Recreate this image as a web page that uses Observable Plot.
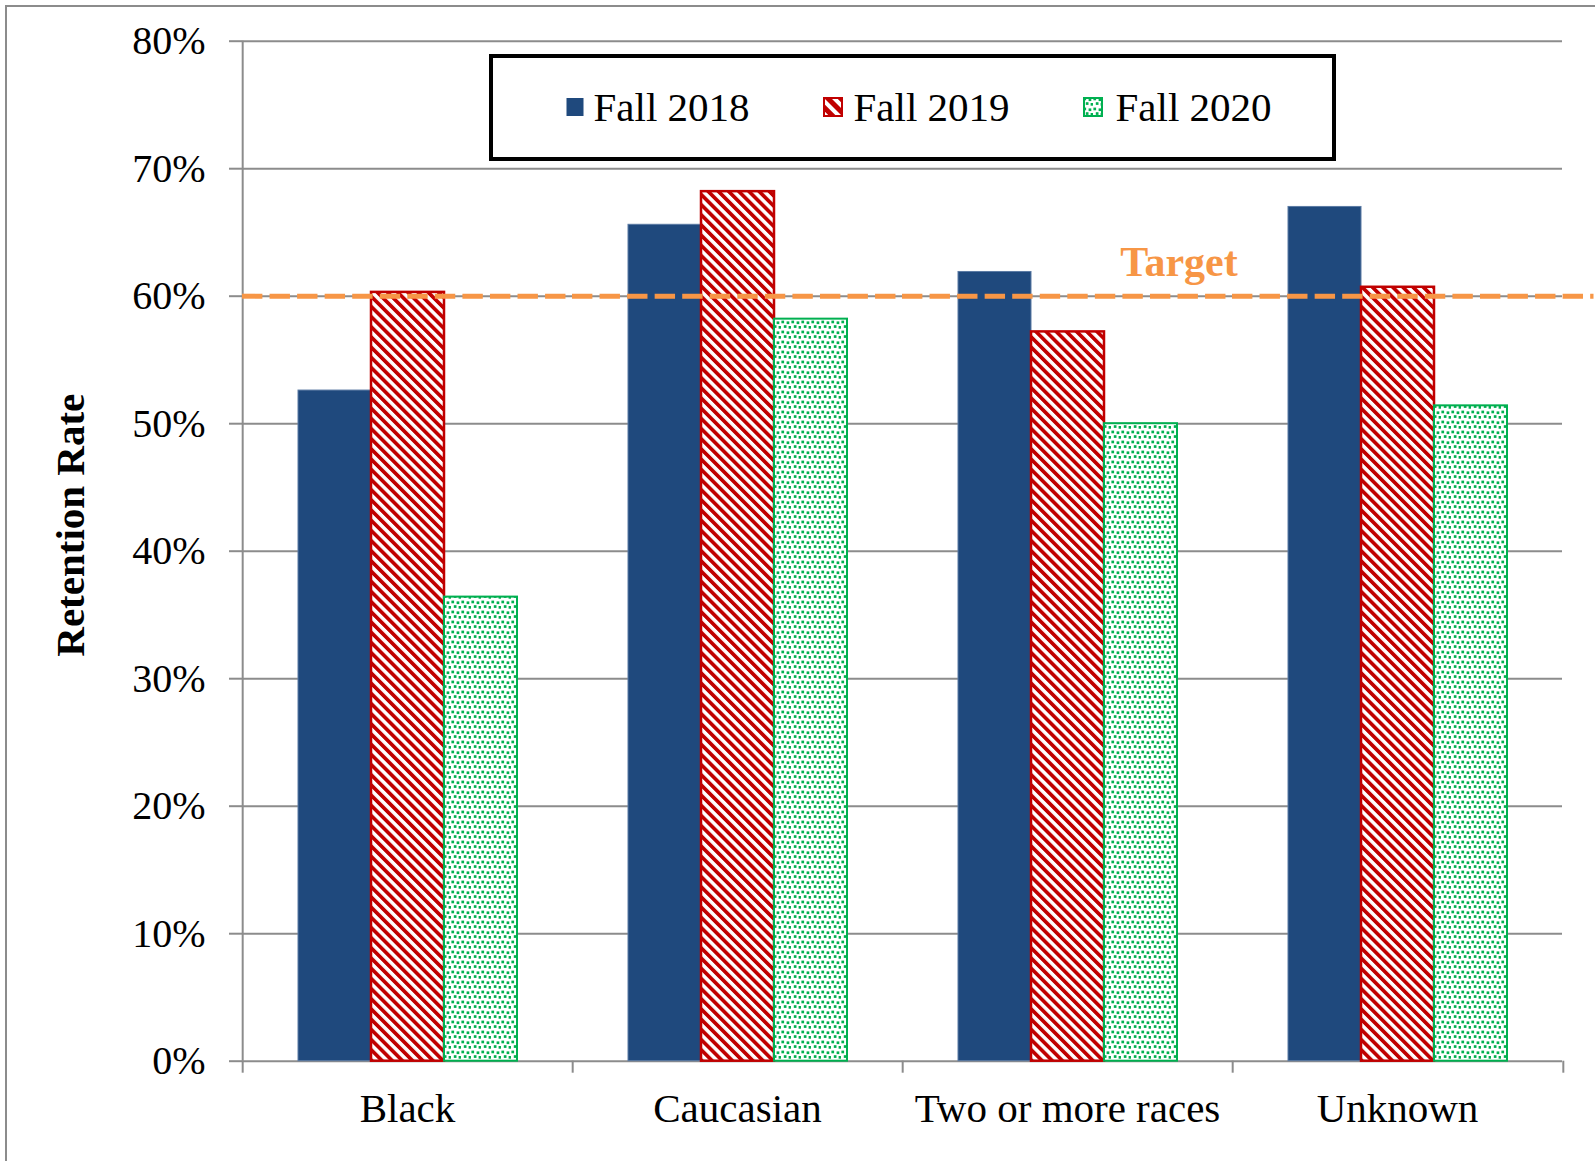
<!DOCTYPE html>
<html><head><meta charset="utf-8">
<script src="https://cdn.jsdelivr.net/npm/d3@7"></script>
<script src="https://cdn.jsdelivr.net/npm/@observablehq/plot@0.6"></script>
<style>
body{margin:0;background:#fff;}
#wrap{position:relative;width:1595px;height:1161px;overflow:hidden;font-family:'Liberation Serif','Times New Roman',serif;background:#fff;}
#frame{position:absolute;left:5px;top:5px;width:1620px;height:1220px;border-left:2px solid #8c8c8c;border-top:2px solid #8c8c8c;}
#chart{position:absolute;left:0;top:0;}
#legend{position:absolute;left:489px;top:54px;width:847px;height:107px;box-sizing:border-box;border:4.5px solid #000;background:#fff;}
.item{position:absolute;font-size:41px;line-height:41px;color:#000;white-space:nowrap;}
.sw{position:absolute;display:block;}
</style></head>
<body><div id="wrap"><div id="frame"></div><div id="chart"></div><div id="legend"></div></div>
<script>
// ---- data ----
const categories = ["Black", "Caucasian", "Two or more races", "Unknown"];
const series = ["Fall 2018", "Fall 2019", "Fall 2020"];
const fall2018 = [52.6, 65.6, 61.9, 67.0];
const fall2019 = [60.3, 68.2, 57.2, 60.7];
const fall2020 = [36.4, 58.2, 50.0, 51.4];
const target = 60;
const targetLabel = "Target";
const yTicks = [0, 10, 20, 30, 40, 50, 60, 70, 80];
const yTitle = "Retention Rate";

// ---- build table ----
const values = {"Fall 2018": fall2018, "Fall 2019": fall2019, "Fall 2020": fall2020};
const rows = [];
categories.forEach((c, i) => series.forEach(s => rows.push({cat: c, series: s, value: values[s][i]})));
const lastCat = categories[categories.length - 1];

// ---- layout / style ----
const W = 1595, H = 1161, ML = 241, MR = 31.5, MT = 40.7, MB = 100.3;
const facetW = (W - ML - MR) / categories.length;
const dashP = facetW / 12;
const grey = "#8c8c8c";
const navy = "#1F497D", red = "#C00000", green = "#00B050", orange = "#F79646";
const styles = {
  "Fall 2018": {fill: navy, stroke: "#5b7aa3", strokeWidth: 1},
  "Fall 2019": {fill: "url(#hatch)", stroke: red, strokeWidth: 2.5},
  "Fall 2020": {fill: "url(#dots)", stroke: green, strokeWidth: 2}
};
const font = "'Liberation Serif','Times New Roman',serif";
const targetStyle = {stroke: orange, strokeWidth: 5, strokeDasharray: `${dashP * 0.74},${dashP * 0.26}`};

const chart = Plot.plot({
  width: W, height: H,
  marginLeft: ML, marginRight: MR, marginTop: MT, marginBottom: MB,
  style: {fontFamily: font, background: "transparent", color: "#000", overflow: "visible"},
  fx: {domain: categories, padding: 0, axis: null},
  x: {domain: series, paddingInner: 0, paddingOuter: 0.75, axis: null},
  y: {domain: [0, 80], axis: null},
  marks: [
    Plot.ruleY(yTicks, {stroke: grey, strokeWidth: 2}),
    Plot.axisY(yTicks, {tickSize: 13, tickPadding: 24, tickFormat: d => d + "%", fontSize: 40, stroke: grey, strokeWidth: 2, fill: "#000", label: null}),
    ...series.map(s => Plot.barY(rows.filter(d => d.series === s), {fx: "cat", x: "series", y: "value", ...styles[s]})),
    // category boundary ticks & y axis line
    Plot.ruleX(categories.map(c => ({cat: c})), {fx: "cat", x: () => "Fall 2019", dx: -facetW / 2, y1: 0, y2: 0, insetBottom: -12, stroke: grey, strokeWidth: 2}),
    Plot.ruleX([{cat: lastCat}], {fx: "cat", x: () => "Fall 2019", dx: facetW / 2, y1: 0, y2: 0, insetBottom: -12, stroke: grey, strokeWidth: 2}),
    Plot.ruleX([{cat: categories[0]}], {fx: "cat", x: () => "Fall 2019", dx: -facetW / 2, y1: 0, y2: yTicks[yTicks.length - 1], stroke: grey, strokeWidth: 2}),
    // target
    Plot.ruleY(categories.slice(0, -1).map(c => ({cat: c, v: target})), {fx: "cat", y: "v", ...targetStyle}),
    Plot.ruleY([{cat: lastCat, v: target}], {fx: "cat", y: "v", insetRight: -MR, ...targetStyle}),
    Plot.text([{cat: "Two or more races"}], {fx: "cat", x: () => "Fall 2020", y: () => target, text: () => targetLabel, textAnchor: "middle", lineAnchor: "bottom", dx: 38, dy: -20, fontSize: 42, fontWeight: "bold", fill: orange}),
    // y title
    Plot.text([yTitle], {facet: "super", frameAnchor: "left", rotate: -90, dx: -172, dy: -26, fontSize: 41, fontWeight: "bold", textAnchor: "middle", lineAnchor: "middle", fill: "#000"}),
    Plot.axisFx({anchor: "bottom", tickSize: 0, tickPadding: 32, fontSize: 41, fill: "#000", label: null})
  ]
});

// patterns
const defsHTML = `
<pattern id="hatch" patternUnits="userSpaceOnUse" width="7.2" height="7.2" patternTransform="rotate(-45)">
  <rect width="7.2" height="7.2" fill="#fff"/><rect width="3.7" height="7.2" fill="${red}"/>
</pattern>
<pattern id="dots" patternUnits="userSpaceOnUse" width="10" height="10">
  <rect width="10" height="10" fill="#fff"/>
  <rect x="0.4" y="0.6" width="2.7" height="2.7" fill="${green}"/>
  <rect x="5.6" y="1.4" width="2.7" height="2.7" fill="${green}"/>
  <rect x="2.8" y="5.2" width="2.7" height="2.7" fill="${green}"/>
  <rect x="7.6" y="6.0" width="2.4" height="2.7" fill="${green}"/>
</pattern>
<pattern id="hatchL" patternUnits="userSpaceOnUse" width="9" height="9" patternTransform="rotate(-45)">
  <rect width="9" height="9" fill="#fff"/><rect width="5" height="9" fill="${red}"/>
</pattern>`;
const defs = document.createElementNS("http://www.w3.org/2000/svg", "defs");
defs.innerHTML = defsHTML;
chart.insertBefore(defs, chart.firstChild);
document.getElementById("chart").appendChild(chart);

// legend
const legend = document.getElementById("legend");
const items = [
  {label: series[0], sw: 72, tx: 100.5},
  {label: series[1], sw: 329.5, tx: 360.5},
  {label: series[2], sw: 589.5, tx: 622.5}
];
items.forEach((it, i) => {
  const s = it.label;
  const st = styles[s];
  const sw = document.createElementNS("http://www.w3.org/2000/svg", "svg");
  sw.setAttribute("class", "sw");
  sw.setAttribute("width", 20); sw.setAttribute("height", 20);
  sw.style.left = it.sw + "px"; sw.style.top = "39px";
  if (i === 0) {
    sw.innerHTML = `<rect x="1.5" y="1" width="17" height="18" fill="${navy}"/>`;
  } else {
    const f = i === 1 ? "url(#hatchL)" : st.fill;
    sw.innerHTML = `<rect x="1" y="1" width="18" height="18" fill="${f}" stroke="${st.stroke}" stroke-width="2"/>`;
  }
  legend.appendChild(sw);
  const t = document.createElement("div");
  t.className = "item";
  t.textContent = s;
  t.style.left = it.tx + "px"; t.style.top = "29px";
  legend.appendChild(t);
});
</script></body></html>
